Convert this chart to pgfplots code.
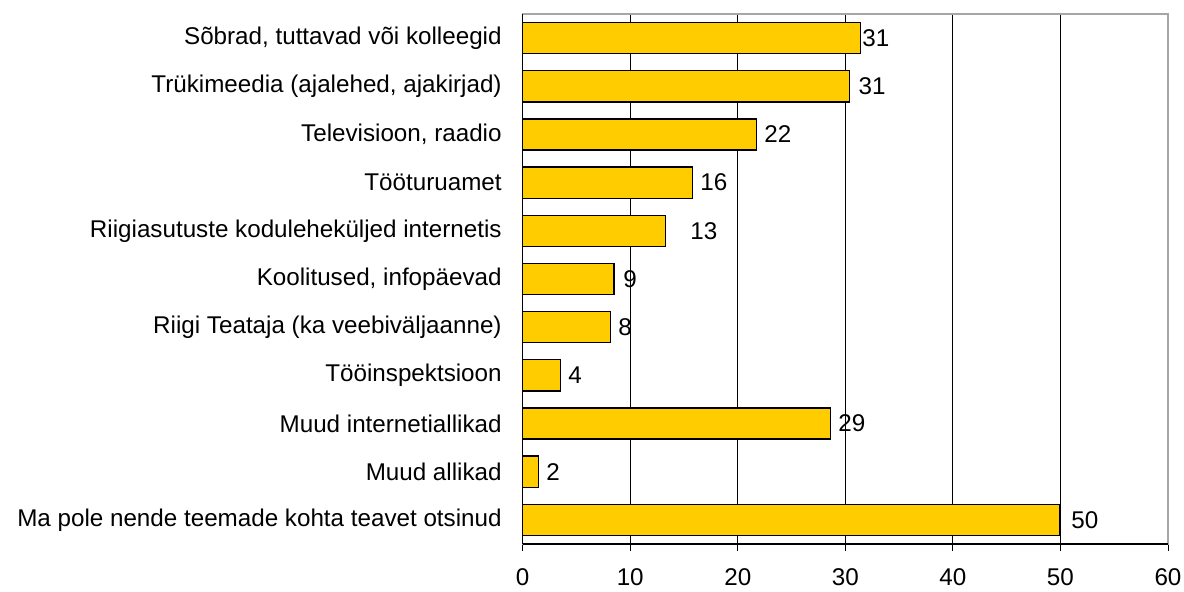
\documentclass[border=0pt]{standalone}
\usepackage{fontspec}
\setmainfont{Liberation Sans}
\usepackage{pgfplots}
\pgfplotsset{compat=1.18}
\definecolor{baryellow}{HTML}{FFCC00}
\begin{document}
\begin{tikzpicture}
\begin{axis}[
  name=ax,
  width=322.65pt, height=265pt, scale only axis,
  xmin=0, xmax=60, ymin=-0.5, ymax=10.5, y dir=reverse,
  xtick={0,10,...,60},
  xmajorgrids, major grid style={black, line width=0.5pt},
  ytick={0,...,10},
  yticklabels={Sõbrad{,} tuttavad või kolleegid, Trükimeedia (ajalehed{,} ajakirjad), Televisioon{,} raadio, Tööturuamet, Riigiasutuste koduleheküljed internetis, Koolitused{,} infopäevad, Riigi Teataja (ka veebiväljaanne), Tööinspektsioon, Muud internetiallikad, Muud allikad, Ma pole nende teemade kohta teavet otsinud},
  major y tick style={draw=none},
  extra y ticks={-0.5,0.5,...,10.5},
  extra y tick labels={},
  extra y tick style={tick align=outside, major tick length=3.5pt, tick style={draw=black, line width=0.5pt}, grid=none},
  tick align=outside, major tick length=3.5pt,
  xtick pos=bottom, ytick pos=left,
  tick style={black, line width=0.5pt},
  axis line style={gray!70, line width=0.6pt},
  ticklabel style={font=\fontsize{12.1}{14}\selectfont},
  yticklabel style={xshift=-3.5pt},
  xticklabel style={yshift=-5.5pt},
  /pgf/number format/assume math mode=true,
  clip=false,
]
\addplot[xbar, bar width=15.6pt, fill=baryellow, draw=black, line width=0.7pt] coordinates {
(31.4,0) (30.4,1) (21.75,2) (15.8,3) (13.3,4) (8.5,5) (8.15,6) (3.5,7) (28.6,8) (1.45,9) (49.9,10)};
\addplot[draw=none, mark=none, nodes near coords, point meta=explicit symbolic,
  nodes near coords style={anchor=west, inner sep=0pt, font=\fontsize{12.1}{14}\selectfont}]
  table[meta=label] {
x y label
31.55 0 31
31.2 1 31
22.43 2 22
16.49 3 16
15.56 4 13
9.33 5 9
8.86 6 8
4.21 7 4
29.32 8 29
2.16 9 2
50.98 10 50
};
\draw[black, line width=0.6pt] (rel axis cs:0,0) -- (rel axis cs:0,1);
\draw[black, line width=0.6pt] (rel axis cs:0,0) -- (rel axis cs:1,0);
\end{axis}
\pgfresetboundingbox
\useasboundingbox ([xshift=-261.35pt,yshift=-24pt]ax.south west) rectangle ([xshift=8pt,yshift=7pt]ax.north east);
\end{tikzpicture}
\end{document}
